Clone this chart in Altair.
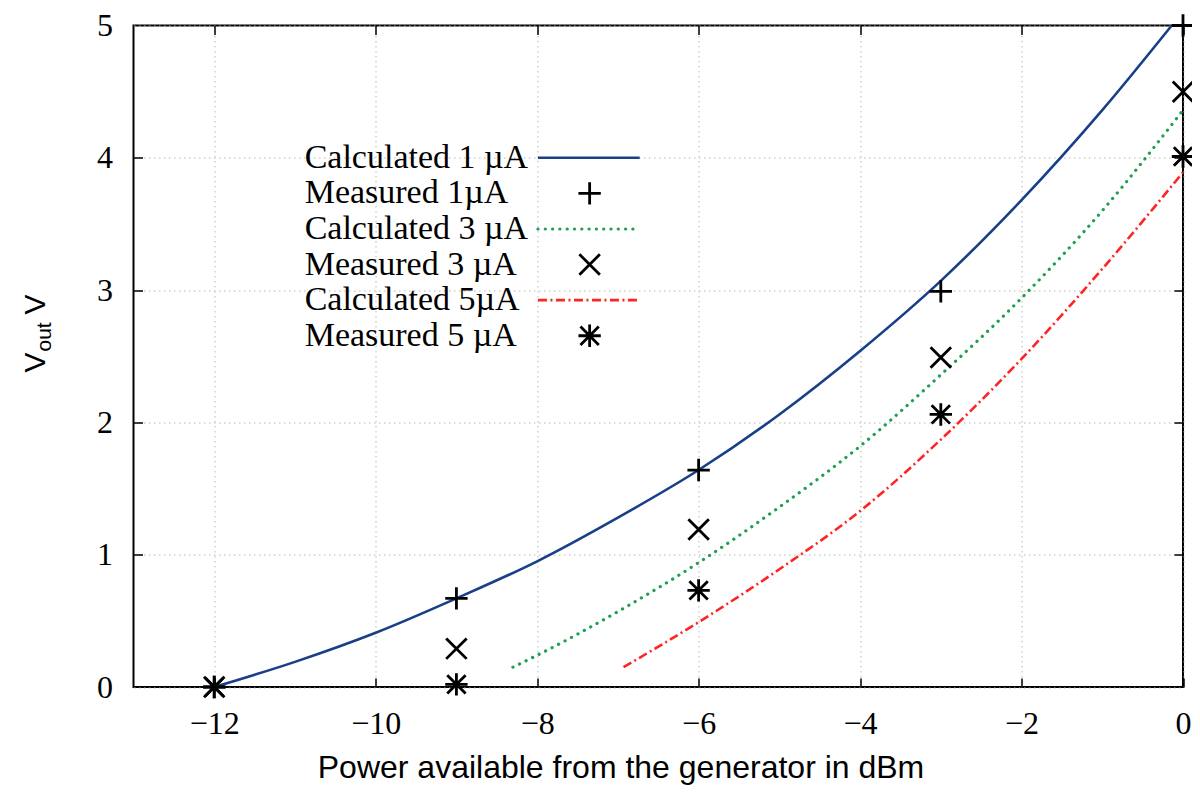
import altair as alt
import pandas as pd

# ---------------- data ----------------
calc1_x = [-12, -11, -10, -9, -8, -7, -6, -5, -4, -3, -2, -1, -0.14]
calc1_y = [0.0, 0.19, 0.41, 0.67, 0.95, 1.28, 1.64, 2.06, 2.54, 3.07, 3.68, 4.36, 5.0]

calc3_x = [-8.3, -8, -7, -6, -5, -4, -3, -2, -1, 0]
calc3_y = [0.15, 0.24, 0.57, 0.94, 1.36, 1.82, 2.36, 2.94, 3.60, 4.36]

calc5_x = [-6.93, -6, -5, -4, -3, -2, -1, 0]
calc5_y = [0.15, 0.49, 0.89, 1.33, 1.87, 2.48, 3.16, 3.89]

meas_x = [-12, -9, -6, -3, 0]
meas1_y = [0.0, 0.67, 1.64, 2.99, 5.0]
meas3_y = [0.0, 0.29, 1.19, 2.49, 4.50]
meas5_y = [0.0, 0.02, 0.73, 2.06, 4.01]

x_ticks = [-12, -10, -8, -6, -4, -2, 0]
y_ticks = [0, 1, 2, 3, 4, 5]

legend_labels = ["Calculated 1 µA", "Measured 1µA", "Calculated 3 µA",
                 "Measured 3 µA", "Calculated 5µA", "Measured 5 µA"]

x_title = "Power available from the generator in dBm"

# ---------------- styles ----------------
BLUE = "#183f88"
GREEN = "#1f9f52"
RED = "#ff2424"
SERIF = "Liberation Serif"
SANS = "Liberation Sans"

PLUS = "M-1,0L1,0M0,-1L0,1"
CROSS = "M-1,-1L1,1M-1,1L1,-1"
STAR = "M-1,0L1,0M0,-1L0,1M-0.82,-0.82L0.82,0.82M-0.82,0.82L0.82,-0.82"

PLOT_W, PLOT_H = 1049.5, 661.5

x_scale = alt.Scale(domain=[-13, 0], nice=False, zero=False)
y_scale = alt.Scale(domain=[0, 5], nice=False, zero=False)

df1 = pd.DataFrame({"x": calc1_x, "y": calc1_y})
df3 = pd.DataFrame({"x": calc3_x, "y": calc3_y})
df5 = pd.DataFrame({"x": calc5_x, "y": calc5_y})
dm1 = pd.DataFrame({"x": meas_x, "y": meas1_y})
dm3 = pd.DataFrame({"x": meas_x, "y": meas3_y})
dm5 = pd.DataFrame({"x": meas_x, "y": meas5_y})

main_x_axis = alt.Axis(
    values=x_ticks, grid=True, gridColor="#b8b8b8", gridDash=[1.5, 3.5], gridWidth=1,
    ticks=False, domain=False, labelFont=SERIF, labelFontSize=32, labelColor="black",
    labelPadding=21, labelFlush=False, labelOverlap=False,
    title=x_title, titleFont=SANS, titleFontSize=32, titleFontWeight="normal",
    titleColor="black", titleX=487, titleY=90, titleBaseline="alphabetic", titleAlign="center",
)
main_y_axis = alt.Axis(
    values=y_ticks, grid=True, gridColor="#b8b8b8", gridDash=[1.5, 3.5], gridWidth=1,
    ticks=False, domain=False, labelFont=SERIF, labelFontSize=32, labelColor="black",
    labelPadding=21, labelFlush=False, labelOverlap=False, title="",
)


def tick_axis(orient, vals):
    return alt.Axis(orient=orient, offset=-9, tickSize=9, tickWidth=1.5, tickColor="black",
                    values=vals, labels=False, grid=False, domain=False, title="")


blue = alt.Chart(df1).mark_line(color=BLUE, strokeWidth=2.6, interpolate="monotone").encode(
    x=alt.X("x:Q", scale=x_scale, axis=main_x_axis),
    y=alt.Y("y:Q", scale=y_scale, axis=main_y_axis),
)
green = alt.Chart(df3).mark_line(color=GREEN, strokeWidth=3.2, strokeDash=[0.1, 7.2],
                                 strokeCap="round", interpolate="monotone").encode(
    x=alt.X("x:Q", scale=x_scale, axis=tick_axis("bottom", x_ticks)),
    y=alt.Y("y:Q", scale=y_scale, axis=tick_axis("left", [1, 2, 3, 4])),
)
red = alt.Chart(df5).mark_line(color=RED, strokeWidth=2.6, strokeDash=[9, 3.5, 2, 3.5],
                               interpolate="monotone").encode(
    x=alt.X("x:Q", scale=x_scale, axis=tick_axis("top", x_ticks)),
    y=alt.Y("y:Q", scale=y_scale, axis=tick_axis("right", [1, 2, 3, 4])),
)


def pts(df, shape, size):
    return alt.Chart(df).mark_point(shape=shape, size=size, filled=False, color="black",
                                    strokeWidth=2.8, opacity=1).encode(
        x=alt.X("x:Q", scale=x_scale, axis=None),
        y=alt.Y("y:Q", scale=y_scale, axis=None),
    )


p1 = pts(dm1, PLUS, 500)
p3 = pts(dm3, CROSS, 420)
p5 = pts(dm5, STAR, 500)

# ---------------- legend (inside the plot, in data coordinates) ----------------
row_y = [4.0 - 0.269 * i for i in range(len(legend_labels))]
leg = pd.DataFrame({"label": legend_labels, "ly": row_y,
                    "tx": [-10.88] * 6, "lx1": [-7.99] * 6, "lx2": [-6.73] * 6,
                    "px": [-7.35] * 6})

leg_text = alt.Chart(leg).mark_text(align="left", baseline="middle", font=SERIF,
                                    fontSize=34, color="black").encode(
    x=alt.X("tx:Q", scale=x_scale, axis=None),
    y=alt.Y("ly:Q", scale=y_scale, axis=None),
    text="label:N",
)


def leg_line(idx, **style):
    return alt.Chart(leg.iloc[[idx]]).mark_rule(**style).encode(
        x=alt.X("lx1:Q", scale=x_scale, axis=None), x2="lx2:Q",
        y=alt.Y("ly:Q", scale=y_scale, axis=None),
    )


def leg_pt(idx, shape, size):
    return alt.Chart(leg.iloc[[idx]]).mark_point(shape=shape, size=size, filled=False,
                                                 color="black", strokeWidth=2.8, opacity=1).encode(
        x=alt.X("px:Q", scale=x_scale, axis=None),
        y=alt.Y("ly:Q", scale=y_scale, axis=None),
    )


l1 = leg_line(0, color=BLUE, strokeWidth=2.6)
l3 = leg_line(2, color=GREEN, strokeWidth=3.2, strokeDash=[0.1, 7.2], strokeCap="round")
l5 = leg_line(4, color=RED, strokeWidth=2.6, strokeDash=[9, 3.5, 2, 3.5])
lp1 = leg_pt(1, PLUS, 500)
lp3 = leg_pt(3, CROSS, 420)
lp5 = leg_pt(5, STAR, 500)


# ---------------- y-axis title with subscript ----------------
def ytext(t, fs, xpos, ypos):
    return alt.Chart(pd.DataFrame({"t": [t]})).mark_text(
        angle=270, align="left", baseline="alphabetic", font=SANS, fontSize=fs, color="black"
    ).encode(text="t:N", x=alt.value(xpos), y=alt.value(ypos))


yt1 = ytext("V", 30, -89, 347)
yt2 = ytext("out", 21, -83, 326)
yt3 = ytext("V", 30, -89, 289)

chart = alt.layer(
    blue, green, red, p1, p3, p5,
    leg_text, l1, l3, l5, lp1, lp3, lp5,
    yt1, yt2, yt3,
).resolve_axis(x="independent", y="independent").properties(
    width=PLOT_W, height=PLOT_H,
    autosize=alt.AutoSizeParams(type="none"),
    padding={"left": 125.5, "top": 17.5, "right": 9, "bottom": 100.5},
    background="white",
).configure_view(stroke="black", strokeWidth=2)

chart.save("out.html", embed_options={"renderer": "svg", "actions": False})
